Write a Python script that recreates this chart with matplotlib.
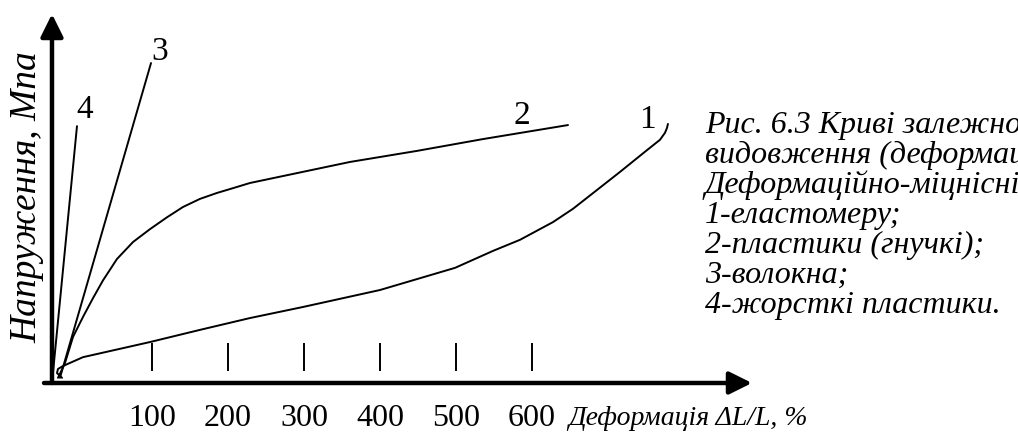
import matplotlib.pyplot as plt

plt.rcParams['font.family'] = ['Liberation Serif', 'DejaVu Serif']

# deformation, % / stress (arbitrary units, schematic)
x_ticks = [100, 200, 300, 400, 500, 600]

curve4_x = [-31.6, 1.3]
curve4_y = [0.0, 69.6]

curve3_x = [-21.1, 98.7]
curve3_y = [1.4, 86.7]

curve2_x = [-23.7, -14.5, -3.9, 9.2, 22.4, 35.5, 53.9, 75.0, 97.4, 119.7, 140.8,
            163.2, 185.5, 206.6, 228.9, 360.5, 448.7, 535.5, 647.4]
curve2_y = [1.4, 5.4, 12.5, 17.9, 23.0, 27.8, 33.6, 38.2, 41.7, 44.9, 47.7,
            49.9, 51.5, 52.8, 54.2, 59.9, 62.9, 66.1, 69.9]

curve1_x = [-18.4, -25.0, -23.7, -17.1, 9.2, 97.4, 163.2, 228.9, 298.7, 400.0, 498.7,
            548.7, 584.2, 627.6, 653.9, 685.5, 715.8, 751.3, 768.4, 775.0, 777.6, 778.9]
curve1_y = [1.4, 2.7, 3.8, 4.6, 7.0, 11.1, 14.4, 17.6, 20.6, 25.2, 31.2,
            35.8, 38.8, 43.6, 47.2, 52.3, 57.2, 63.1, 65.9, 67.8, 69.1, 70.2]

labels = ['1', '2', '3', '4']
label_x = [751.3, 586.8, 110.5, 11.8]
label_y = [71.3, 72.4, 89.7, 74.0]

caption = [
    'Рис. 6.3 Криві залежності напруження від',
    'видовження (деформації).',
    'Деформаційно-міцнісні властивості',
    '1-еластомеру;',
    '2-пластики (гнучкі);',
    '3-волокна;',
    '4-жорсткі пластики.',
]

fig = plt.figure(figsize=(10.18, 4.32), dpi=100)
ax = fig.add_axes([0, 0, 1, 1])
ax.set_xlim(-100, 1239.5)
ax.set_ylim(-13.28, 103.79)
ax.axis('off')

x0 = -31.6
# axes with arrows
ax.annotate('', xy=(x0, 100.0), xytext=(x0, 0),
            arrowprops=dict(arrowstyle='-|>,head_length=1.37,head_width=0.68',
                            mutation_scale=10, lw=3.2, color='black',
                            shrinkA=0, shrinkB=0))
ax.annotate('', xy=(889.5, 0), xytext=(-42.1, 0),
            arrowprops=dict(arrowstyle='-|>,head_length=1.37,head_width=0.68',
                            mutation_scale=10, lw=3.2, color='black',
                            shrinkA=0, shrinkB=0))

ax.vlines(x_ticks, 3.25, 10.8, color='black', lw=1.4)
for t in x_ticks:
    ax.text(t, -9.5, str(t), ha='center', va='center', fontsize=23)
ax.text(647.4, -9.5, 'Деформація ΔL/L, %', ha='left', va='center',
        fontsize=20, style='italic')
ax.text(-64.5, 50.4, 'Напруження, Мпа', rotation=90, ha='center', va='center',
        fontsize=27, style='italic')

for xs, ys in [(curve1_x, curve1_y), (curve2_x, curve2_y),
               (curve3_x, curve3_y), (curve4_x, curve4_y)]:
    ax.plot(xs, ys, color='black', lw=1.4, solid_capstyle='round',
            solid_joinstyle='round')

for lab, lx, ly in zip(labels, label_x, label_y):
    ax.text(lx, ly, lab, ha='center', va='center', fontsize=24)

for i, line in enumerate(caption):
    ax.text(827.6, 67.75 - 8.13 * i, line, ha='left', va='baseline',
            fontsize=23, style='italic')

fig.savefig('out.png', dpi=100)
